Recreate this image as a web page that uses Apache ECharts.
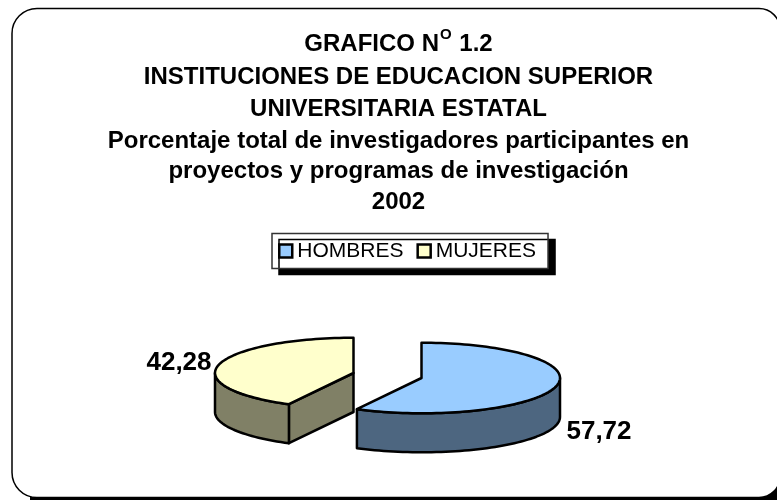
<!DOCTYPE html>
<html>
<head>
<meta charset="utf-8">
<style>
  html, body { margin: 0; padding: 0; background: #fff; }
  #chart { width: 777px; height: 500px; }
</style>
<script src="https://cdn.jsdelivr.net/npm/echarts@6/dist/echarts.min.js"></script>
</head>
<body>
<div id="chart"></div>
<script>
const categories = ['HOMBRES', 'MUJERES']
const percentages = [57.72, 42.28]
const titleLines = [
  '{b|GRAFICO N}{sup|O}{b| 1.2}',
  'INSTITUCIONES DE EDUCACION SUPERIOR',
  'UNIVERSITARIA ESTATAL',
  'Porcentaje total de investigadores participantes en',
  'proyectos y programas de investigación',
  '2002',
]
const titleTops = [22, 60, 92, 124, 154, 185]

const topColors = ['#99CCFF', '#FFFFCC']
const wallColors = ['#4D6680', '#808066']
// exploded slice centres and label anchors, in pixels
const sliceCenters = [[421.5, 378], [353.5, 373]]
const labelSpots = [[599, 432], [179, 363]]
const RX = 138.5
const RY = 35.3
const DEPTH = 39
const FONT = '"Liberation Sans", Arial, sans-serif'

const total = percentages.reduce((a, b) => a + b, 0)

function ringPoint(c, deg, drop) {
  const r = (deg * Math.PI) / 180
  return [c[0] + RX * Math.sin(r), c[1] - RY * Math.cos(r) + drop]
}

function arc(c, from, to, drop) {
  const pts = []
  const steps = Math.max(2, Math.ceil(Math.abs(to - from) / 2))
  for (let i = 0; i <= steps; i++) {
    pts.push(ringPoint(c, from + ((to - from) * i) / steps, drop))
  }
  return pts
}

const strokeStyle = (fill) => ({ fill: fill, stroke: '#000', lineWidth: 2.5, lineJoin: 'round' })

function renderSlice(idx, startPct) {
  return function (params, api) {
    const value = api.value(0)
    const a0 = (startPct / total) * 360
    const a1 = ((startPct + value) / total) * 360
    const c = sliceCenters[idx]
    const children = []
    const wall = wallColors[idx]

    // flat faces along the cut edges, only the ones turned to the viewer
    ;[a0, a1].forEach((a, i) => {
      const s = Math.sin((a * Math.PI) / 180)
      if ((i === 0 && s < -1e-6) || (i === 1 && s > 1e-6)) {
        const p = ringPoint(c, a, 0)
        children.push({
          type: 'polygon',
          shape: { points: [c, p, [p[0], p[1] + DEPTH], [c[0], c[1] + DEPTH]] },
          style: strokeStyle(wall),
        })
      }
    })

    // outer wall, front half of the ellipse only
    const w0 = Math.max(a0, 90)
    const w1 = Math.min(a1, 270)
    if (w1 > w0) {
      const upper = arc(c, w0, w1, 0)
      const lower = arc(c, w0, w1, DEPTH).reverse()
      children.push({
        type: 'polygon',
        shape: { points: upper.concat(lower) },
        style: strokeStyle(wall),
      })
    }

    children.push({
      type: 'polygon',
      shape: { points: [c].concat(arc(c, a0, a1, 0)) },
      style: strokeStyle(topColors[idx]),
    })

    children.push({
      type: 'text',
      style: {
        text: value.toFixed(2).replace('.', ','),
        x: labelSpots[idx][0],
        y: labelSpots[idx][1],
        align: 'center',
        verticalAlign: 'middle',
        fill: '#000',
        font: 'bold 26px ' + FONT,
      },
    })
    return { type: 'group', children: children }
  }
}

const chart = echarts.init(document.getElementById('chart'), null, { renderer: 'canvas' })

let running = 0
const series = categories.map((name, i) => {
  const s = {
    name: name,
    type: 'custom',
    coordinateSystem: 'none',
    z: i === 0 ? 3 : 2,
    itemStyle: { color: topColors[i], borderColor: '#000', borderWidth: 2.5 },
    renderItem: renderSlice(i, running),
    data: [[percentages[i]]],
    silent: true,
    animation: false,
  }
  running += percentages[i]
  return s
})

chart.setOption({
  animation: false,
  backgroundColor: '#fff',
  graphic: [
    {
      // black shadow behind the sheet shows along the bottom and in the lower right corner
      type: 'rect',
      z: -2,
      silent: true,
      shape: { x: 30, y: 470, width: 747, height: 30 },
      style: { fill: '#000' },
    },
    {
      type: 'rect',
      z: -1,
      silent: true,
      shape: { x: 12, y: 8.5, width: 768, height: 489, r: [25, 21, 21, 25] },
      style: { fill: '#fff', stroke: '#000', lineWidth: 1.5 },
    },
  ],
  title: titleLines.map((line, i) => ({
    text: line,
    left: 393.5,
    top: titleTops[i],
    textAlign: 'center',
    textStyle: {
      fontFamily: FONT,
      fontWeight: 'bold',
      fontSize: 24,
      color: '#000',
      rich: {
        b: { fontWeight: 'bold', fontSize: 24, color: '#000', verticalAlign: 'bottom', padding: [5, 0, 0, 0], fontFamily: FONT },
        sup: { fontWeight: 'bold', fontSize: 15, color: '#000', verticalAlign: 'top', padding: [0, 1, 0, 1], fontFamily: FONT },
      },
    },
  })),
  legend: {
    data: categories,
    left: 272,
    top: 233.5,
    orient: 'horizontal',
    padding: [7, 12, 7, 6],
    itemGap: 13,
    itemWidth: 13,
    itemHeight: 13,
    icon: 'rect',
    selectedMode: false,
    backgroundColor: '#fff',
    borderColor: '#333',
    borderWidth: 1.5,
    shadowColor: '#000',
    shadowBlur: 0,
    shadowOffsetX: 7,
    shadowOffsetY: 6,
    itemStyle: { borderColor: '#000', borderWidth: 2.5 },
    textStyle: {
      fontFamily: FONT,
      fontSize: 21,
      color: '#000',
    },
  },
  series: series,
})
</script>
</body>
</html>
